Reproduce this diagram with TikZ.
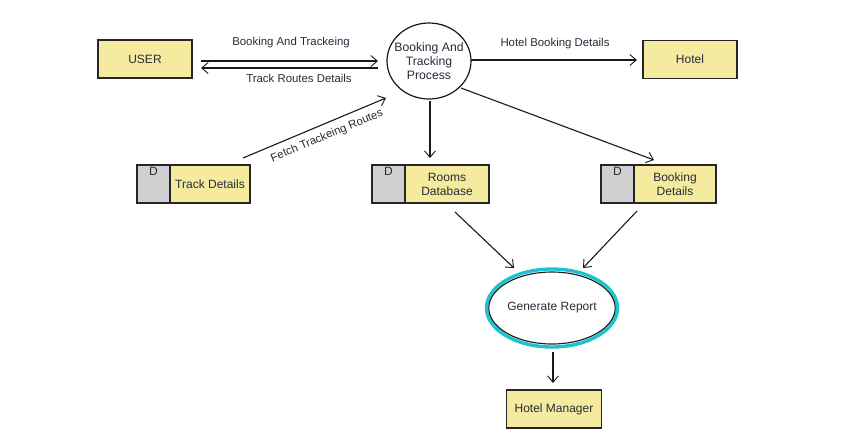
\documentclass[tikz,border=0pt]{standalone}
\usepackage{fontspec}
\setmainfont{Liberation Sans}
\usetikzlibrary{arrows.meta,shapes.geometric,positioning}
\definecolor{boxyellow}{HTML}{F5EB9E}
\definecolor{storegray}{HTML}{D0D0D0}
\definecolor{glow}{HTML}{1EC3D2}
\definecolor{txt}{HTML}{2A2A3A}
\begin{document}
\begin{tikzpicture}[x=1pt,y=-1pt,
  font=\fontsize{12}{14}\selectfont, text=txt,
  every path/.style={line width=1.1pt},
  ent/.style={draw=black!85, fill=boxyellow, minimum width=94pt, minimum height=38pt, inner sep=0pt, line width=1.2pt},
  grayd/.style={draw=black!85, fill=storegray, minimum width=33pt, minimum height=38pt, inner sep=0pt, line width=1.2pt},
  storetxt/.style={draw=black!85, fill=boxyellow, minimum height=38pt, inner sep=0pt, line width=1.2pt, align=center},
  flow/.style={draw=black!90, -{Straight Barb[length=6.5pt,width=11pt,line width=0.9pt]}},
  lbl/.style={inner sep=1pt, font=\fontsize{11.4}{13}\selectfont}
]
\useasboundingbox (0,0) rectangle (860,440);
% entities
\node[ent] (user) at (145,59) {USER};
\node[ent] (hotel) at (690,59.5) {Hotel};
\node[ent, minimum width=95pt] (mgr) at (554,409) {Hotel Manager};
% process
\node[ellipse, draw=black!90, fill=white, minimum width=84pt, minimum height=76pt, inner sep=0pt, line width=1.2pt] (proc) at (429,61) {};
\node[align=center, inner sep=0pt, font=\fontsize{12.2}{14}\selectfont] (proct) at (proc.center) {Booking And\\Tracking\\Process};
% generate report
\node[ellipse, draw=glow, line width=3.4pt, fill=white, minimum width=131pt, minimum height=78pt, inner sep=0pt] (gen) at (552,308) {};
\node[ellipse, draw=black!90, line width=1.1pt, minimum width=125pt, minimum height=72pt, inner sep=0pt] (genin) at (552,308) {Generate Report};
% stores
\node[grayd] (tdD) at (153.5,184) {};
\node[anchor=north, inner sep=2pt] (tdDl) at (tdD.north) {D};
\node[storetxt, minimum width=80pt] (td) at (210,184) {Track Details};
\node[grayd] (rdD) at (388.5,184) {};
\node[anchor=north, inner sep=2pt] (rdDl) at (rdD.north) {D};
\node[storetxt, minimum width=84pt] (rd) at (447,184) {Rooms\\Database};
\node[grayd] (bdD) at (617.5,184) {};
\node[anchor=north, inner sep=2pt] (bdDl) at (bdD.north) {D};
\node[storetxt, minimum width=82pt] (bd) at (675,184) {Booking\\Details};
% connector endpoints
\coordinate (a1s) at (201,61);
\coordinate (a1e) at (378,61);
\coordinate (a2s) at (378,68);
\coordinate (a2e) at (201,68);
\coordinate (hbs) at (471,60);
\coordinate (hbe) at (637,60);
\coordinate (fts) at (243,158);
\coordinate (fte) at (386,98);
\coordinate (rds) at (430,101);
\coordinate (rde) at (430,158);
\coordinate (bds) at (461,88);
\coordinate (bde) at (654,160);
\coordinate (g1s) at (455,212);
\coordinate (g1e) at (514,268);
\coordinate (g2s) at (637,211);
\coordinate (g2e) at (583,268);
\coordinate (ms) at (553,352);
\coordinate (me) at (553,383);
% flows
\draw[flow] (a1s) -- (a1e);
\node[lbl] (l1) at (291,43) {Booking And Trackeing};
\draw[flow] (a2s) -- (a2e);
\node[lbl] (l2) at (299,78) {Track Routes Details};
\draw[flow] (hbs) -- (hbe);
\node[lbl] (l3) at (555,44) {Hotel Booking Details};
\draw[flow] (fts) -- (fte);
\node[lbl, rotate=22.8] (l4) at (327,136) {Fetch Trackeing Routes};
\draw[flow] (rds) -- (rde);
\draw[flow] (bds) -- (bde);
\draw[flow] (g1s) -- (g1e);
\draw[flow] (g2s) -- (g2e);
\draw[flow] (ms) -- (me);
\end{tikzpicture}
\end{document}
